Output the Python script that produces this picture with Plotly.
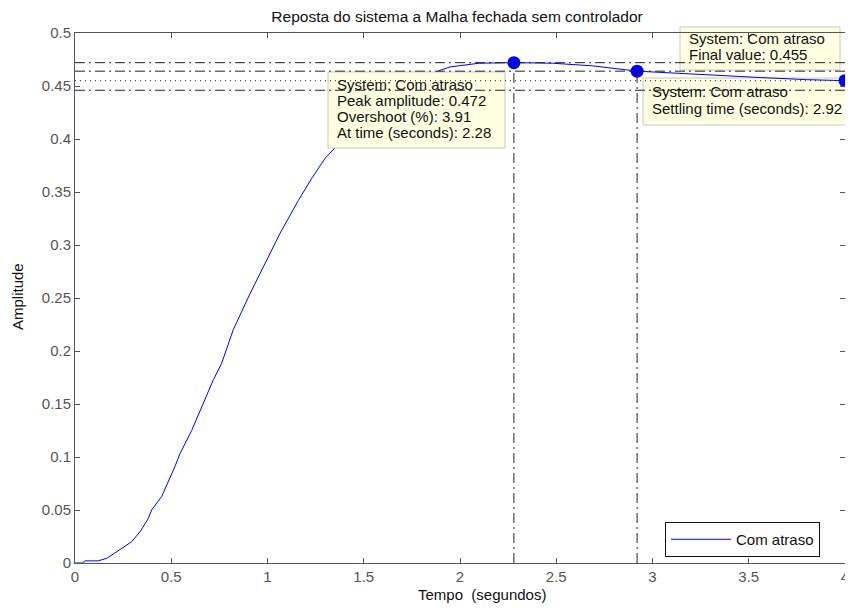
import plotly.graph_objects as go

# Step response samples
t = [0, 0.04, 0.05, 0.12, 0.165, 0.234, 0.294, 0.34, 0.381, 0.398, 0.45, 0.519, 0.545,
     0.606, 0.649, 0.675, 0.719, 0.761, 0.822, 0.909, 0.996, 1.065, 1.16, 1.23, 1.30,
     1.34, 1.4, 1.5, 1.6, 1.7, 1.8, 1.9, 1.948, 2.10, 2.28, 2.48, 2.61, 2.69, 2.92,
     3.21, 3.56, 3.8, 4.0]
y = [0, 0, 0.002, 0.002, 0.0044, 0.0123, 0.020, 0.030, 0.042, 0.050, 0.0626, 0.091, 0.103,
     0.125, 0.143, 0.154, 0.173, 0.188, 0.220, 0.254, 0.286, 0.311, 0.342, 0.363, 0.382,
     0.390, 0.401, 0.418, 0.433, 0.446, 0.457, 0.465, 0.468, 0.4715, 0.472, 0.4715, 0.470,
     0.469, 0.464, 0.461, 0.458, 0.456, 0.455]

peak_time = 2.28
peak_amp = 0.472
overshoot = 3.91
settle_time = 2.92
settle_amp = 0.464
final_time = 4.0
final_value = 0.455
settle_upper = 0.464
settle_lower = 0.446

x_ticks = [0, 0.5, 1, 1.5, 2, 2.5, 3, 3.5, 4]
y_ticks = [0, 0.05, 0.1, 0.15, 0.2, 0.25, 0.3, 0.35, 0.4, 0.45, 0.5]

system_name = "Com atraso"
title_text = "Reposta do sistema a Malha fechada sem controlador"
xlabel = "Tempo  (segundos)"
ylabel = "Amplitude"

FONT = "Liberation Sans, Arial, sans-serif"
DASHDOT = "10px,4px,2px,4px"
DOT = "1px,4px"
refc = "#222222"

# page is offset by the 8px body margin; plot area on the page: x 75..845, y 33..563
PX0, PX1, PY0, PY1 = 75, 845, 33, 563


def px(xp):
    return (xp - PX0) / (PX1 - PX0)


def py(yp):
    return (PY1 - yp) / (PY1 - PY0)


fig = go.Figure()

fig.add_trace(go.Scatter(x=t, y=y, mode="lines", name=system_name,
                         line=dict(color="#0000FF", width=1)))

fig.add_trace(go.Scatter(x=[peak_time, settle_time, final_time],
                         y=[peak_amp, settle_amp, final_value],
                         mode="markers", marker=dict(color="#0000FF", size=13),
                         showlegend=False, cliponaxis=False, hoverinfo="skip"))

BOX_FILL = "#FFFFE1"
BOX_LINE = "#C8C8C8"

# data-tip boxes: (x0, x1, y0top, y1bottom) in page pixels, text x, line y's, texts, layer
boxes = [
    (328, 505, 72, 148, 335, [85, 101, 117, 133],
     [f"System: {system_name}", f"Peak amplitude: {peak_amp}",
      f"Overshoot (%): {overshoot}", f"At time (seconds): {peak_time}"], "above"),
    (680, 840, 27, 70, 687, [38, 54],
     [f"System: {system_name}", f"Final value: {final_value}"], "below"),
    (643, 852, 78, 125, 650, [92, 109],
     [f"System: {system_name}", f"Settling time (seconds): {settle_time}"], "below"),
]

for x0, x1, yt, yb, tx, lys, texts, layer in boxes:
    fig.add_shape(type="rect", xref="paper", yref="paper",
                  x0=px(x0), x1=px(x1), y0=py(yb), y1=py(yt),
                  fillcolor=BOX_FILL, line=dict(color=BOX_LINE, width=1), layer=layer)

# reference lines drawn on top of the boxes
for val, dash in [(peak_amp, DASHDOT), (settle_upper, DASHDOT), (final_value, DOT), (settle_lower, DASHDOT)]:
    fig.add_shape(type="line", xref="x", yref="y", x0=x_ticks[0], x1=x_ticks[-1], y0=val, y1=val,
                  line=dict(color=refc, width=1, dash=dash), layer="above")
for tv, yv in [(peak_time, peak_amp), (settle_time, settle_amp)]:
    fig.add_shape(type="line", xref="x", yref="y", x0=tv, x1=tv, y0=0, y1=yv,
                  line=dict(color=refc, width=1, dash=DASHDOT), layer="above")

for x0, x1, yt, yb, tx, lys, texts, layer in boxes:
    for ly, txt in zip(lys, texts):
        fig.add_annotation(xref="paper", yref="paper", x=px(tx), y=py(ly), text=txt,
                           xanchor="left", yanchor="middle", showarrow=False,
                           font=dict(family=FONT, size=15, color="#111"))

# axis labels
fig.add_annotation(xref="paper", yref="paper", x=px(482), y=py(594), text=xlabel,
                   xanchor="center", yanchor="middle", showarrow=False,
                   font=dict(family=FONT, size=15, color="#111"))
fig.add_annotation(xref="paper", yref="paper", x=px(17), y=py(297), text=ylabel,
                   textangle=-90, xanchor="center", yanchor="middle", showarrow=False,
                   font=dict(family=FONT, size=15, color="#111"))

axis_common = dict(showline=True, linecolor="#555", linewidth=1, mirror="allticks",
                   ticks="inside", ticklen=5, tickcolor="#555", showgrid=False,
                   zeroline=False, tickfont=dict(family=FONT, size=15, color="#555"))

fig.update_xaxes(range=[0, 4], tickvals=x_ticks, ticktext=[f"{v:g}" for v in x_ticks], **axis_common)
fig.update_yaxes(range=[0, 0.5], tickvals=y_ticks, ticktext=[f"{v:g}" for v in y_ticks], **axis_common)

fig.update_layout(
    width=845, height=600,
    margin=dict(l=67, r=8, t=25, b=45, autoexpand=False),
    paper_bgcolor="white", plot_bgcolor="white",
    title=dict(text=title_text, x=(457 - 8) / 845, xanchor="center",
               y=1 - (17 - 8) / 600, yanchor="middle",
               font=dict(family=FONT, size=15.5, color="#111")),
    legend=dict(x=px(820), xanchor="right", y=py(557), yanchor="bottom",
                bgcolor="white", bordercolor="#111", borderwidth=1, itemwidth=60,
                font=dict(family=FONT, size=15, color="#111")),
    showlegend=True,
)

fig.write_html("out.html")
